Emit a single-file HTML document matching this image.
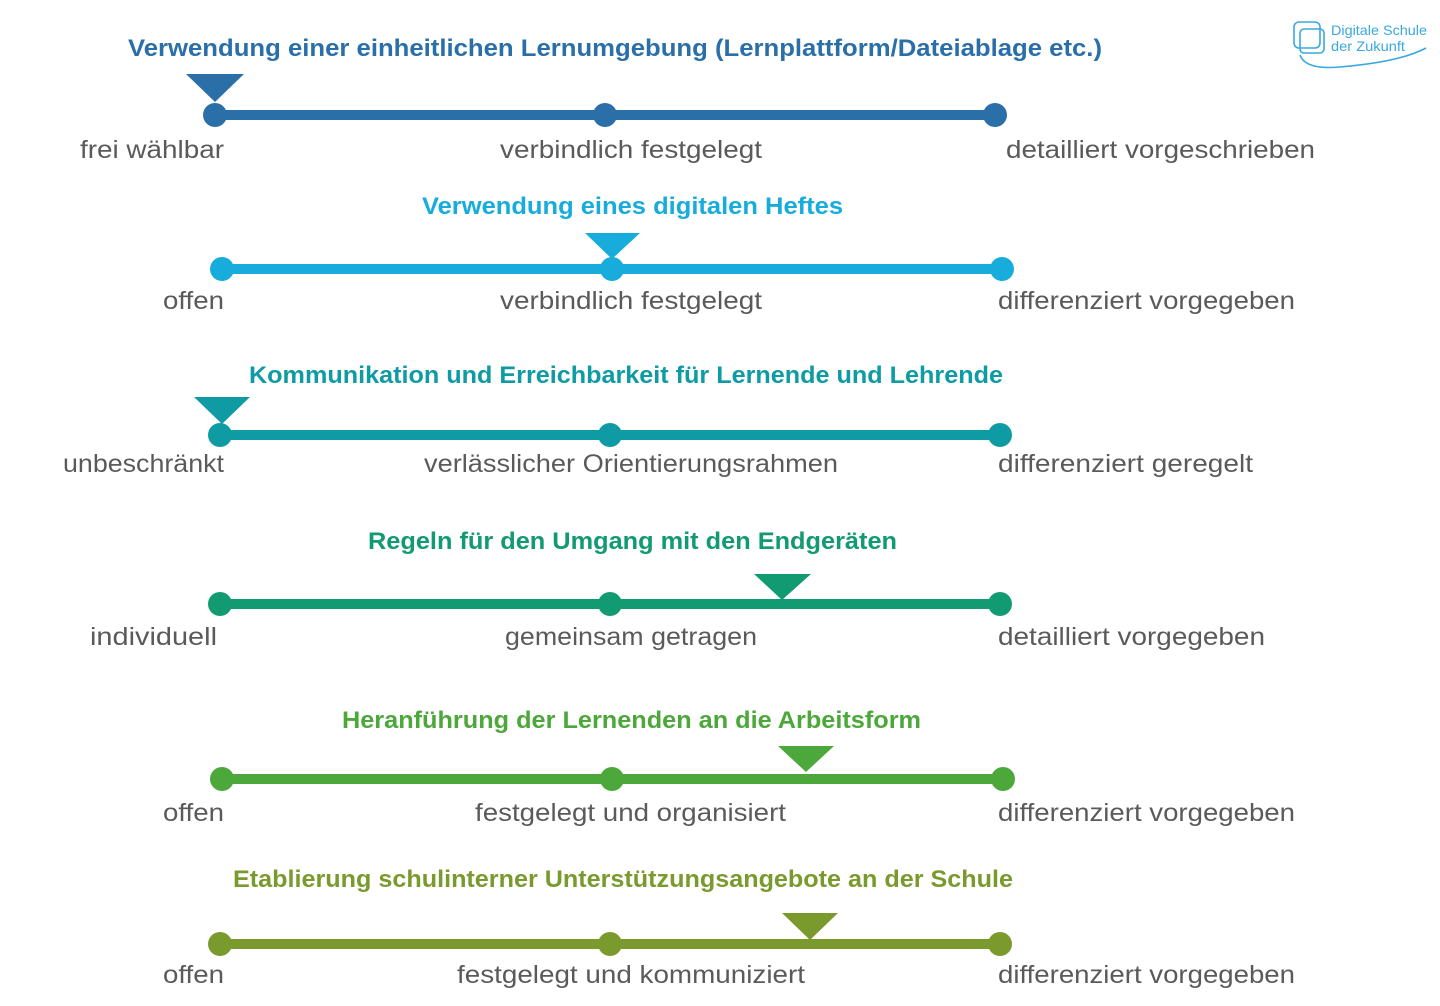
<!DOCTYPE html>
<html><head><meta charset="utf-8"><style>
html,body{margin:0;padding:0;background:#fff;}
svg{display:block;}
.t{font-family:"Liberation Sans",sans-serif;font-weight:bold;font-size:24px;}
.l{font-family:"Liberation Sans",sans-serif;font-size:25px;fill:#5a5a5a;}
</style></head><body>
<svg width="1440" height="1006" viewBox="0 0 1440 1006" xmlns="http://www.w3.org/2000/svg">
<!-- logo -->
<g fill="none" stroke="#3aa8e0" stroke-width="1.6">
<rect x="1294" y="22" width="26" height="26" rx="5"/>
<rect x="1300" y="29" width="24" height="24" rx="4"/>
<path d="M1300 55 Q1305 70 1340 67 Q1400 62 1426 48"/>
</g>
<text x="1331" y="35" font-family="Liberation Sans,sans-serif" font-size="14" fill="#3aa8e0" textLength="96" lengthAdjust="spacingAndGlyphs">Digitale Schule</text>
<text x="1331" y="51" font-family="Liberation Sans,sans-serif" font-size="14" fill="#3aa8e0" textLength="74" lengthAdjust="spacingAndGlyphs">der Zukunft</text>

<!-- Row 1 -->
<g fill="#2a6fa8">
<text class="t" x="128" y="56" textLength="974" lengthAdjust="spacingAndGlyphs">Verwendung einer einheitlichen Lernumgebung (Lernplattform/Dateiablage etc.)</text>
<rect x="215" y="110" width="780" height="10"/>
<circle cx="215" cy="115" r="12"/><circle cx="605" cy="115" r="12"/><circle cx="995" cy="115" r="12"/>
<polygon points="186,74 244,74 215,102"/>
</g>
<text class="l" x="80" y="158" textLength="144" lengthAdjust="spacingAndGlyphs">frei wählbar</text>
<text class="l" x="500" y="158" textLength="262" lengthAdjust="spacingAndGlyphs">verbindlich festgelegt</text>
<text class="l" x="1006" y="158" textLength="309" lengthAdjust="spacingAndGlyphs">detailliert vorgeschrieben</text>

<!-- Row 2 -->
<g fill="#17acdb">
<text class="t" x="422" y="214" textLength="421" lengthAdjust="spacingAndGlyphs">Verwendung eines digitalen Heftes</text>
<rect x="222" y="264" width="780" height="10"/>
<circle cx="222" cy="269" r="12"/><circle cx="612" cy="269" r="12"/><circle cx="1002" cy="269" r="12"/>
<polygon points="585,233 640,233 612,259"/>
</g>
<text class="l" x="163" y="309" textLength="61" lengthAdjust="spacingAndGlyphs">offen</text>
<text class="l" x="500" y="309" textLength="262" lengthAdjust="spacingAndGlyphs">verbindlich festgelegt</text>
<text class="l" x="998" y="309" textLength="297" lengthAdjust="spacingAndGlyphs">differenziert vorgegeben</text>

<!-- Row 3 -->
<g fill="#0e9ba3">
<text class="t" x="249" y="383" textLength="754" lengthAdjust="spacingAndGlyphs">Kommunikation und Erreichbarkeit für Lernende und Lehrende</text>
<rect x="220" y="430" width="780" height="10"/>
<circle cx="220" cy="435" r="12"/><circle cx="610" cy="435" r="12"/><circle cx="1000" cy="435" r="12"/>
<polygon points="194,397 250,397 222,424"/>
</g>
<text class="l" x="63" y="472" textLength="161" lengthAdjust="spacingAndGlyphs">unbeschränkt</text>
<text class="l" x="424" y="472" textLength="414" lengthAdjust="spacingAndGlyphs">verlässlicher Orientierungsrahmen</text>
<text class="l" x="998" y="472" textLength="255" lengthAdjust="spacingAndGlyphs">differenziert geregelt</text>

<!-- Row 4 -->
<g fill="#129a72">
<text class="t" x="368" y="549" textLength="529" lengthAdjust="spacingAndGlyphs">Regeln für den Umgang mit den Endgeräten</text>
<rect x="220" y="599" width="780" height="10"/>
<circle cx="220" cy="604" r="12"/><circle cx="610" cy="604" r="12"/><circle cx="1000" cy="604" r="12"/>
<polygon points="754,574 811,574 782,600"/>
</g>
<text class="l" x="90" y="645" textLength="127" lengthAdjust="spacingAndGlyphs">individuell</text>
<text class="l" x="505" y="645" textLength="252" lengthAdjust="spacingAndGlyphs">gemeinsam getragen</text>
<text class="l" x="998" y="645" textLength="267" lengthAdjust="spacingAndGlyphs">detailliert vorgegeben</text>

<!-- Row 5 -->
<g fill="#4ca83a">
<text class="t" x="342" y="728" textLength="579" lengthAdjust="spacingAndGlyphs">Heranführung der Lernenden an die Arbeitsform</text>
<rect x="222" y="774" width="781" height="10"/>
<circle cx="222" cy="779" r="12"/><circle cx="612" cy="779" r="12"/><circle cx="1003" cy="779" r="12"/>
<polygon points="778,746 834,746 806,772"/>
</g>
<text class="l" x="163" y="821" textLength="61" lengthAdjust="spacingAndGlyphs">offen</text>
<text class="l" x="475" y="821" textLength="311" lengthAdjust="spacingAndGlyphs">festgelegt und organisiert</text>
<text class="l" x="998" y="821" textLength="297" lengthAdjust="spacingAndGlyphs">differenziert vorgegeben</text>

<!-- Row 6 -->
<g fill="#7b9a2e">
<text class="t" x="233" y="887" textLength="780" lengthAdjust="spacingAndGlyphs">Etablierung schulinterner Unterstützungsangebote an der Schule</text>
<rect x="220" y="939" width="780" height="10"/>
<circle cx="220" cy="944" r="12"/><circle cx="610" cy="944" r="12"/><circle cx="1000" cy="944" r="12"/>
<polygon points="782,913 838,913 810,940"/>
</g>
<text class="l" x="163" y="983" textLength="61" lengthAdjust="spacingAndGlyphs">offen</text>
<text class="l" x="457" y="983" textLength="348" lengthAdjust="spacingAndGlyphs">festgelegt und kommuniziert</text>
<text class="l" x="998" y="983" textLength="297" lengthAdjust="spacingAndGlyphs">differenziert vorgegeben</text>
</svg>
</body></html>
